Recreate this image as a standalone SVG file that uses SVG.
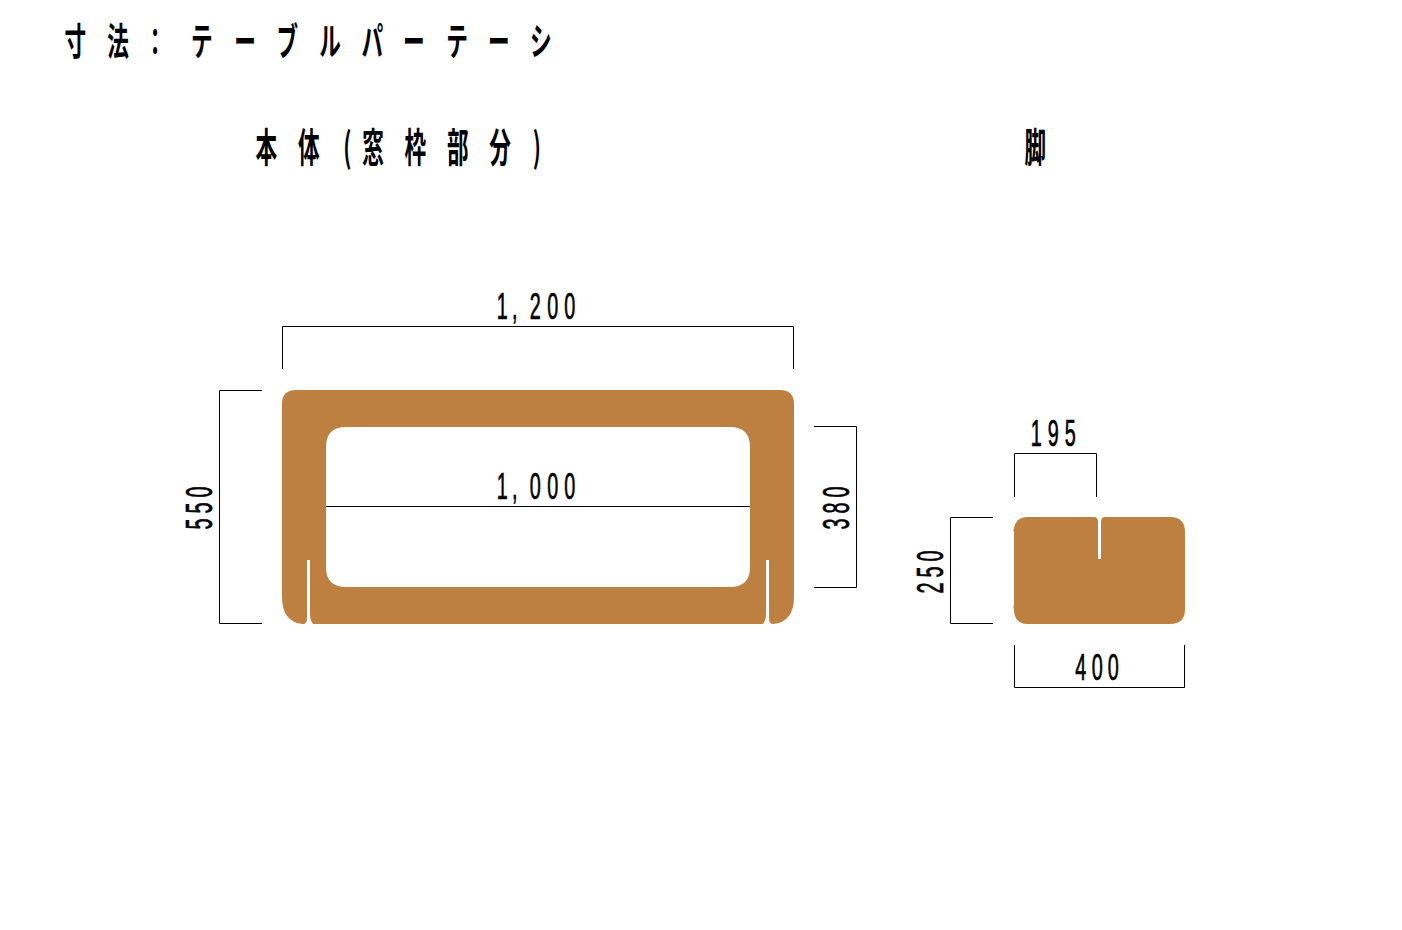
<svg xmlns="http://www.w3.org/2000/svg" width="1402" height="930" viewBox="0 0 1402 930">
<style>
.h{font-family:"Noto Sans CJK JP","Noto Sans CJK SC",sans-serif;font-weight:700;fill:#000;text-anchor:middle}
.t{font-size:38px}
.s{font-size:40px}
.d{font-family:"Liberation Sans",sans-serif;font-size:36px;fill:#000;stroke:#000;stroke-width:.7;text-anchor:middle}
.p{fill:#bd8040}
.l{fill:none;stroke:#000;stroke-width:1}
</style>
<rect width="1402" height="930" fill="#fff"/>
<g id="title"><text class="h t" transform="translate(0 55) scale(.57 1)" x="132 207 272 354 430 504 579 653 726 802 875 949">寸法：テーブルパーテーシ</text></g>
<g id="heading-body"><text class="h s" transform="translate(0 162) scale(.54 1)" x="493 572 643 691 769 848 926 994">本体(窓枠部分)</text></g>
<g id="heading-leg"><text class="h s" transform="translate(0 162) scale(.54 1)" x="1917">脚</text></g>
<g id="body"><path class="p" fill-rule="evenodd" d="M296 390H780Q794 390 794 404V597Q794 622 773 624Q769 624 769 618V560H766V614Q766 620 763 624H313Q310 620 310 614V560H307V618Q307 624 303 624Q282 622 282 597V404Q282 390 296 390ZM346 427Q326 427 326 447V567Q326 587 346 587H730Q750 587 750 567V447Q750 427 730 427Z"/></g>
<g id="leg"><path class="p" d="M1028 517H1094Q1098 517 1098 522V559H1101V522Q1101 517 1105 517H1170Q1185 517 1185 532V609Q1185 624 1170 624H1028Q1014 624 1014 609Q1013 607 1014 604V532Q1013 530 1014 528Q1016 517 1028 517Z"/></g>
<g id="connectors">
<path class="l" d="M282.500 369V326.500H793.500V369"/>
<path class="l" d="M326 506.500H750"/>
<path class="l" d="M262 390.500H219.500V623.500H262"/>
<path class="l" d="M814 426.500H856.500V587.500H814"/>
<path class="l" d="M1014.500 497V453.500H1096.500V497"/>
<path class="l" d="M993 517.500H950.500V623.500H993"/>
<path class="l" d="M1014.500 645V687.500H1184.500V645"/>
</g>
<g id="labels">
<text class="d" transform="translate(0 319) scale(.55 1)" x="913 936 973 1005 1036">1,200</text>
<text class="d" transform="translate(0 499) scale(.55 1)" x="913 936 973 1005 1036">1,000</text>
<text class="d" transform="translate(0 446) scale(.55 1)" x="1884 1915 1946">195</text>
<text class="d" transform="translate(0 680) scale(.55 1)" x="1965 1995 2024">400</text>
<text class="d" transform="translate(212 508) rotate(-90) scale(.55 1)" x="-29 0 29">550</text>
<text class="d" transform="translate(849 508) rotate(-90) scale(.55 1)" x="-29 0 29">380</text>
<text class="d" transform="translate(943 572) rotate(-90) scale(.55 1)" x="-29 0 29">250</text>
</g>
</svg>
